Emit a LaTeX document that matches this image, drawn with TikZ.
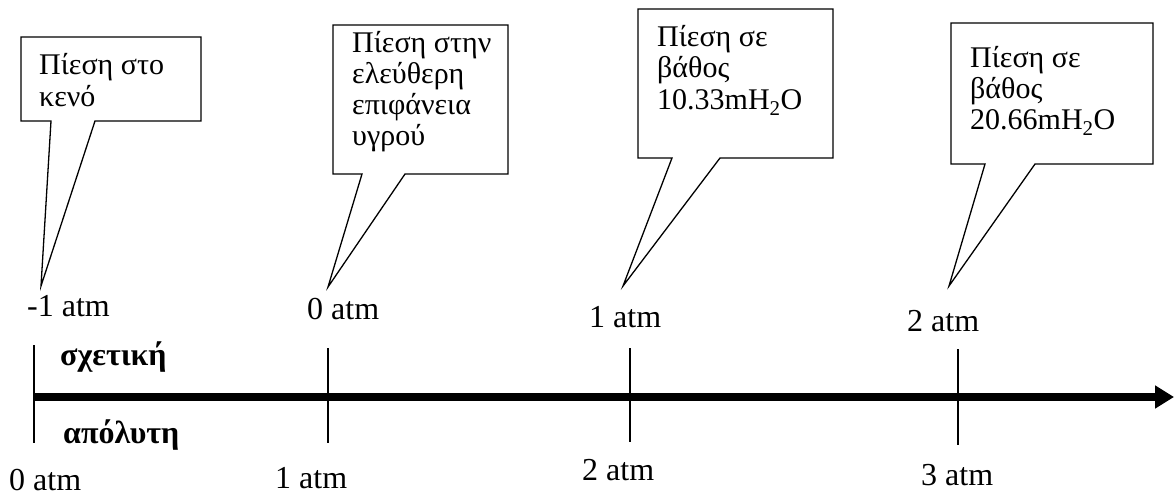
\documentclass[tikz,border=0pt]{standalone}
\usepackage{fontspec}
\setmainfont{Liberation Serif}
\usetikzlibrary{arrows.meta}
\begin{document}
\begin{tikzpicture}[x=1pt,y=-1pt,
  callout/.style={draw=black,line width=1.3pt,line join=miter},
  ctext/.style={anchor=base west,inner sep=0pt,font=\fontsize{30}{31}\selectfont},
  lbl/.style={anchor=base west,inner sep=0pt,font=\fontsize{32}{31}\selectfont},
  blbl/.style={anchor=base west,inner sep=0pt,font=\fontsize{32}{31}\selectfont\bfseries},
  tick/.style={line width=1.5pt},
  axis/.style={line width=8pt,-{Triangle[length=19pt,width=22pt]}}]
\useasboundingbox (0,0) rectangle (1174,497);
% callout outlines
\draw[callout] (51,121) -- (41,286) -- (95,121) -- (201,121) -- (201,37) -- (21,37) -- (21,121) -- cycle;
\draw[callout] (362,174) -- (328,287) -- (405,174) -- (508,174) -- (508,25) -- (333,25) -- (333,174) -- cycle;
\draw[callout] (672,158) -- (623,286) -- (720,158) -- (833,158) -- (833,9) -- (638,9) -- (638,158) -- cycle;
\draw[callout] (985,164) -- (949,286) -- (1035,164) -- (1153,164) -- (1153,23) -- (951,23) -- (951,164) -- cycle;
% callout texts
\node[ctext] (c1a) at (39,75) {Πίεση στο};
\node[ctext] (c1b) at (39,107) {κενό};
\node[ctext] (c2a) at (352,53) {Πίεση στην};
\node[ctext] (c2b) at (352,84) {ελεύθερη};
\node[ctext] (c2c) at (352,115) {επιφάνεια};
\node[ctext] (c2d) at (352,146) {υγρού};
\node[ctext] (c3a) at (657,47) {Πίεση σε};
\node[ctext] (c3b) at (657,78) {βάθος};
\node[ctext] (c3c) at (657,110) {10.33mH\textsubscript{2}O};
\node[ctext] (c4a) at (970,68) {Πίεση σε};
\node[ctext] (c4b) at (970,99) {βάθος};
\node[ctext] (c4c) at (970,130) {20.66mH\textsubscript{2}O};
% axis
\coordinate (astart) at (33,397);
\coordinate (aend) at (1174,397);
\draw[axis] (astart) -- (aend);
% ticks
\coordinate (t1u) at (34,345); \coordinate (t1d) at (34,443);
\coordinate (t2u) at (328,348); \coordinate (t2d) at (328,443);
\coordinate (t3u) at (630,348); \coordinate (t3d) at (630,442);
\coordinate (t4u) at (958,349); \coordinate (t4d) at (958,445);
\draw[tick] (t1u) -- (t1d);
\draw[tick] (t2u) -- (t2d);
\draw[tick] (t3u) -- (t3d);
\draw[tick] (t4u) -- (t4d);
% labels above
\node[lbl] (r1) at (27,316) {-1 atm};
\node[lbl] (r2) at (307,319) {0 atm};
\node[lbl] (r3) at (589,327) {1 atm};
\node[lbl] (r4) at (907,331) {2 atm};
% labels below
\node[lbl] (b1) at (9,490) {0 atm};
\node[lbl] (b2) at (275,488) {1 atm};
\node[lbl] (b3) at (582,480) {2 atm};
\node[lbl] (b4) at (921,485) {3 atm};
\node[blbl] (rel) at (60,365) {σχετική};
\node[blbl] (abs) at (63,443) {απόλυτη};
\end{tikzpicture}
\end{document}
